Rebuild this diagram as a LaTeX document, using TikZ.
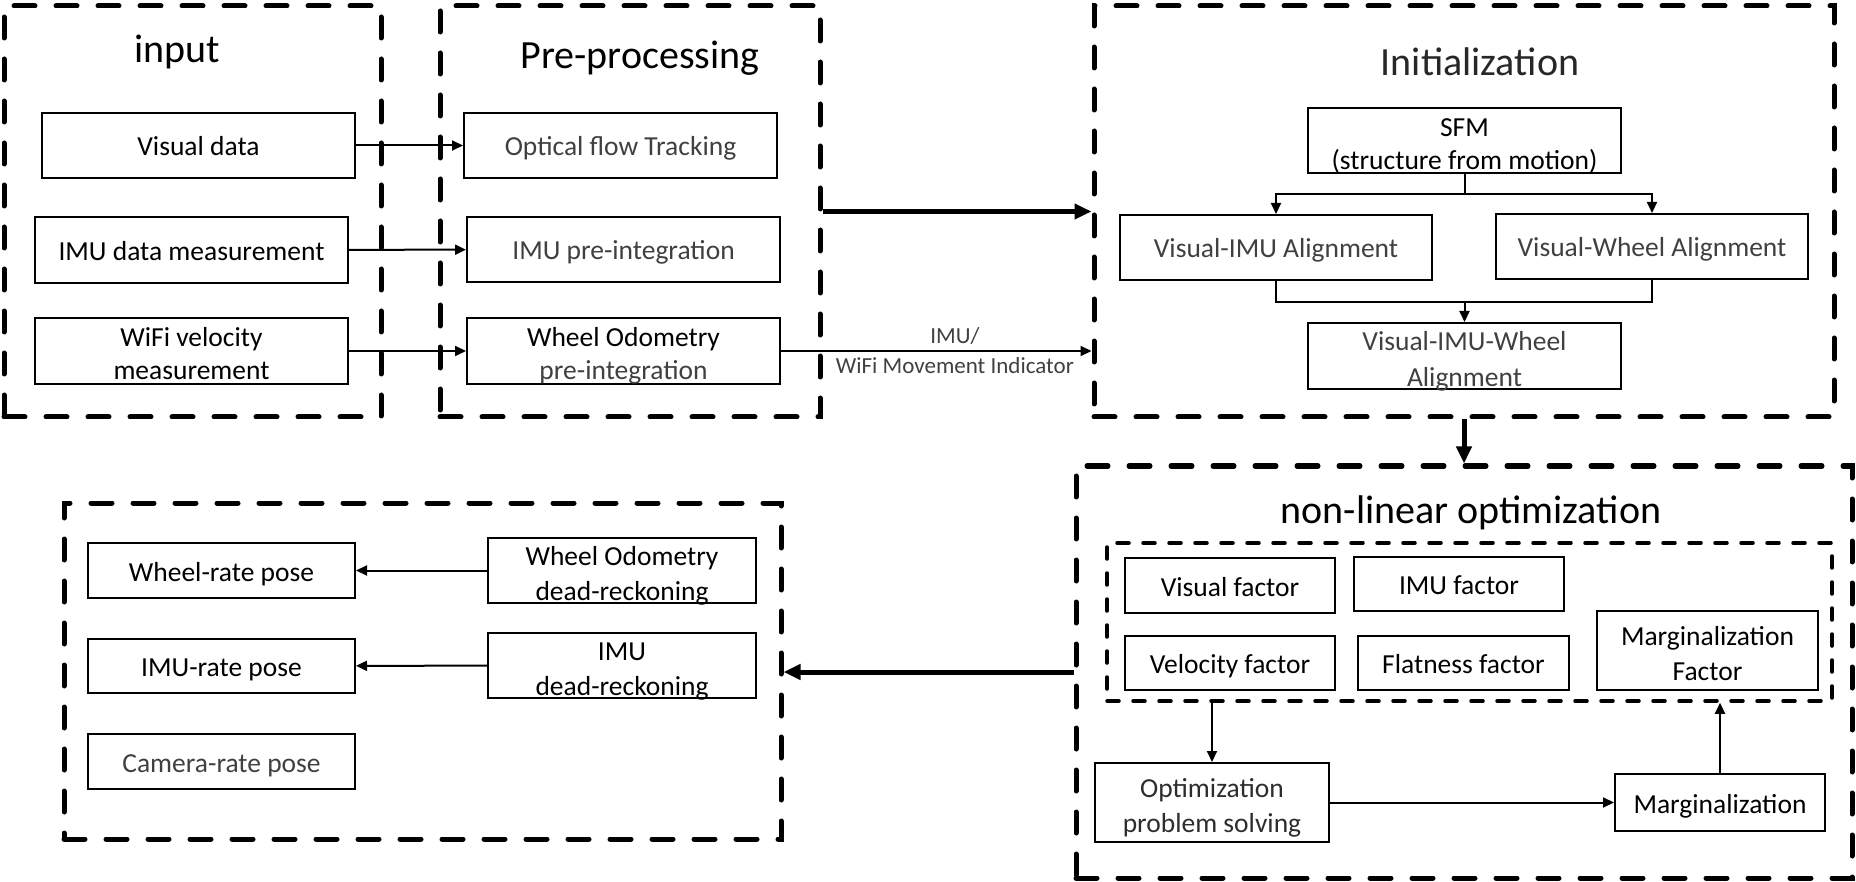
\documentclass[tikz,border=0pt]{standalone}
\usepackage{fontspec}
\setmainfont{Carlito}
\usepackage{xcolor}
\usepackage{tikz}
\usetikzlibrary{positioning, arrows.meta}
\definecolor{softblack}{HTML}{404040}

\begin{document}
\begin{tikzpicture}[x=1pt, y=-1pt,
    box/.style={draw, rectangle, line width=2pt, inner sep=0pt, align=center, minimum width=313pt, minimum height=65pt, font=\fontsize{27.5}{33}\selectfont},
    onebox/.style={box, text height=21pt, text depth=0pt},
    twobox/.style={box, text height=58pt, text depth=0pt},
    spaced/.style={box, font=\fontsize{27.5}{35.5}\selectfont, text height=60.5pt, text depth=0pt},
    stagebox/.style={draw, rectangle, line width=5pt, line cap=round, dash pattern=on 21pt off 21pt, inner sep=0pt},
    groupbox/.style={draw, rectangle, line width=3.5pt, line cap=round, dash pattern=on 12pt off 14pt, inner sep=0pt},
    stagetitle/.style={font=\fontsize{40}{48}\selectfont},
    arr/.style={-{Triangle[length=11pt, width=10pt]}, line width=2pt},
    bigarr/.style={-{Triangle[length=17pt, width=15pt]}, line width=5pt}]
    \useasboundingbox (0,0) rectangle (1856,882);

    % Stages
    \node (inputframe) [stagebox, minimum width=377pt, minimum height=411pt] at (192.5,211.5) {}; % raw sensor data
    \node (preframe) [stagebox, minimum width=380pt, minimum height=411pt] at (630,211.5) {}; % front end
    \node (initframe) [stagebox, minimum width=740pt, minimum height=411pt] at (1464,211.5) {}; % initialization
    \node (optframe) [stagebox, minimum width=776pt, minimum height=412pt] at (1464,672) {}; % back end
    \node (factorframe) [groupbox, minimum width=725pt, minimum height=158pt] at (1469.5,622) {}; % residual terms
    \node (outframe) [stagebox, minimum width=717pt, minimum height=336pt] at (422.5,671) {}; % output poses

    % Titles
    \node (inputtitle) [stagetitle] at (177,52) {input};
    \node (pretitle) [stagetitle] at (640,58) {Pre-processing};
    \node (inittitle) [stagetitle, text=softblack!60!black] at (1480,62) {Initialization};
    \node (opttitle) [stagetitle] at (1471,513) {non-linear optimization};

    % Input
    \node (visual) [onebox] at (198.5,145.5) {Visual data};
    \node (imudata) [onebox, minimum height=66pt] at (191.5,250) {IMU data measurement};
    \node (wifi) [twobox, minimum height=66pt] at (191.5,351) {WiFi velocity\\measurement};

    % Pre-processing
    \node (optflow) [onebox, text=softblack] at (620.5,145.5) {Optical flow Tracking};
    \node (imupre) [onebox, text=softblack] at (623.5,249.5) {IMU pre-integration};
    \node (wheelpre) [twobox, minimum height=66pt] at (623.5,351) {Wheel Odometry\\\textcolor{softblack}{pre-integration}};

    % Initialization
    \node (sfm) [twobox] at (1464.5,140.5) {SFM\\(structure from motion)};
    \node (visimu) [onebox, minimum width=312pt, text=softblack] at (1276,247.5) {Visual-IMU Alignment};
    \node (viswheel) [onebox, minimum width=312pt, text=softblack] at (1652,246.5) {Visual-Wheel Alignment};
    \node (viswheelimu) [spaced, minimum height=66pt, text=softblack] at (1464.5,356) {Visual-IMU-Wheel\\Alignment};

    % Non-linear optimization
    \node (visfac) [onebox, minimum width=210pt, minimum height=55pt] at (1230,585.5) {Visual factor};
    \node (imufac) [onebox, minimum width=210pt, minimum height=54pt] at (1459,584) {IMU factor};
    \node (velfac) [onebox, minimum width=210pt, minimum height=54pt] at (1230,663) {Velocity factor};
    \node (flatfac) [onebox, minimum width=211pt, minimum height=54pt] at (1463.5,663) {Flatness factor};
    \node (margfac) [spaced, minimum width=221pt, minimum height=79pt] at (1707.5,650.5) {Marginalization\\Factor};
    \node (optsolve) [spaced, minimum width=234pt, minimum height=79pt, text=softblack!70!black] at (1212,802.5) {Optimization\\problem solving};
    \node (marg) [onebox, minimum width=210pt, minimum height=57pt] at (1720,802.5) {Marginalization};

    % Output
    \node (wheelpose) [onebox, minimum width=267pt, minimum height=55pt] at (221.5,570.5) {Wheel-rate pose};
    \node (imupose) [onebox, minimum width=267pt, minimum height=54pt] at (221.5,666) {IMU-rate pose};
    \node (campose) [onebox, minimum width=267pt, minimum height=55pt, text=softblack] at (221.5,761.5) {Camera-rate pose};
    \node (wheeldr) [spaced, minimum width=268pt] at (622,570.5) {Wheel Odometry\\dead-reckoning};
    \node (imudr) [spaced, minimum width=268pt] at (622,665.5) {IMU\\dead-reckoning};

    % Arrows
    \draw[arr] (visual) -- (optflow);
    \draw[arr] (imudata) -- (imupre);
    \draw[arr] (wifi) -- (wheelpre);
    \draw[bigarr] (preframe) -- (initframe);
    \draw[arr] (wheelpre.east) -- (wheelpre.east -| initframe.west)
        node[pos=0.56, align=center, text=softblack, font=\fontsize{23}{30}\selectfont] {IMU/\\WiFi Movement Indicator};
    \draw[arr] (sfm.south) -- ++(0,20) -| (visimu.north);
    \draw[arr] (sfm.south) -- ++(0,20) -| (viswheel.north);
    \coordinate (alignjoin) at (1464.5,302);
    \draw[line width=2pt] (visimu.south) |- (alignjoin) -| (viswheel.south);
    \draw[arr] (alignjoin) -- (viswheelimu.north);
    \draw[bigarr] (initframe.south) -- (optframe.north);
    \draw[arr] (optsolve.north |- factorframe.south) -- (optsolve.north);
    \draw[arr] (optsolve) -- (marg);
    \draw[arr] (marg.north) -- (marg.north |- factorframe.south);
    \draw[bigarr] (optframe.west) -- (optframe.west -| outframe.east);
    \draw[arr] (wheeldr) -- (wheelpose);
    \draw[arr] (imudr) -- (imupose);
\end{tikzpicture}
\end{document}
